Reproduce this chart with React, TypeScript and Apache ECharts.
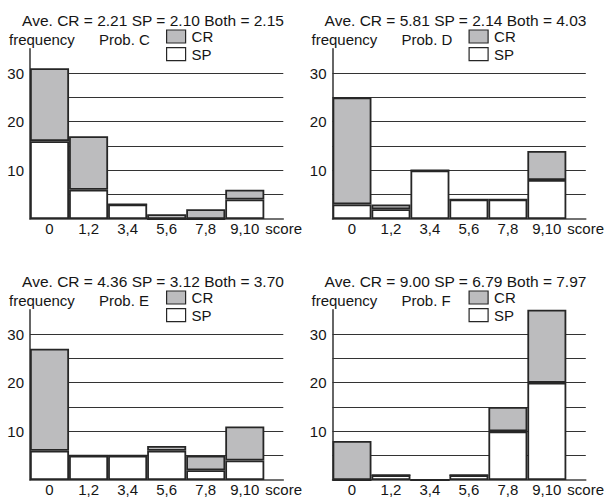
import React, { useEffect, useRef } from "react";
import * as echarts from "echarts";

const categories = ["0", "1,2", "3,4", "5,6", "7,8", "9,10"];
const probs = ["C", "D", "E", "F"];
const spC = [16, 6, 3, 0, 0, 4];
const crC = [15, 11, 0, 1, 2, 2];
const spD = [3, 2, 10, 4, 4, 8];
const crD = [22, 1, 0, 0, 0, 6];
const spE = [6, 5, 5, 6, 2, 4];
const crE = [21, 0, 0, 1, 3, 7];
const spF = [0, 1, 0, 1, 10, 20];
const crF = [8, 0, 0, 0, 5, 15];
const aveCR = ["2.21", "5.81", "4.36", "9.00"];
const aveSP = ["2.10", "2.14", "3.12", "6.79"];
const aveBoth = ["2.15", "4.03", "3.70", "7.97"];

const spData = [spC, spD, spE, spF];
const crData = [crC, crD, crE, crF];

const FONT = '"Liberation Sans", Arial, Helvetica, sans-serif';
const TXT = "#151515";
const GRAY = "#bcbcbe";
const EDGE = "#262626";

export default function App() {
  const ref = useRef<HTMLDivElement>(null);
  useEffect(() => {
    if (!ref.current) return;
    const chart = echarts.init(ref.current, null, { renderer: "svg" });
    const grids: any[] = [];
    const xAxes: any[] = [];
    const yAxes: any[] = [];
    const series: any[] = [];
    const legends: any[] = [];
    const graphics: any[] = [];
    for (let i = 0; i < 4; i++) {
      const ox = i % 2 === 1 ? 302.5 : 0;
      const oy = i >= 2 ? 261 : 0;
      const top = 48.7 + oy;
      const height = 170.3;
      const left = 30 + ox;
      grids.push({ left, top, width: 253.3, height, containLabel: false });
      grids.push({ left, top, width: 234.3, height, containLabel: false });
      const gA = i * 2;
      const gB = i * 2 + 1;
      xAxes.push({
        gridIndex: gA,
        type: "value",
        min: 0,
        max: 1,
        axisLine: { show: true, lineStyle: { color: "#444", width: 1.5 } },
        axisTick: { show: false },
        axisLabel: { show: false },
        splitLine: { show: false },
      });
      yAxes.push({
        gridIndex: gA,
        type: "value",
        min: 0,
        max: 35,
        interval: 5,
        axisLine: { show: true, lineStyle: { color: "#333", width: 1.5 } },
        axisTick: { show: false },
        axisLabel: { show: false },
        splitLine: {
          show: true,
          showMinLine: false,
          showMaxLine: false,
          lineStyle: { color: "#333", width: 1 },
        },
      });
      xAxes.push({
        gridIndex: gB,
        type: "category",
        data: categories,
        axisLine: { show: false },
        axisTick: { show: false },
        axisLabel: { fontSize: 15, color: TXT, fontFamily: FONT, margin: 2 },
        name: "score",
        nameLocation: "end",
        nameGap: 1,
        nameTextStyle: {
          fontSize: 15,
          color: TXT,
          fontFamily: FONT,
          align: "left",
          verticalAlign: "top",
          padding: [2, 0, 0, 0],
        },
      });
      yAxes.push({
        gridIndex: gB,
        type: "value",
        min: 0,
        max: 35,
        interval: 5,
        axisLine: { show: false },
        axisTick: { show: false },
        splitLine: { show: false },
        axisLabel: {
          fontSize: 15,
          color: TXT,
          fontFamily: FONT,
          margin: 6,
          formatter: (v: number) => (v > 0 && v % 10 === 0 ? String(v) : ""),
        },
      });
      series.push({
        type: "bar",
        name: "SP",
        xAxisIndex: gB,
        yAxisIndex: gB,
        stack: "s" + i,
        data: spData[i],
        barCategoryGap: "0%",
        itemStyle: { color: "#ffffff", borderColor: EDGE, borderWidth: 1.8 },
      });
      series.push({
        type: "bar",
        name: "CR",
        xAxisIndex: gB,
        yAxisIndex: gB,
        stack: "s" + i,
        data: crData[i],
        barCategoryGap: "0%",
        itemStyle: { color: GRAY, borderColor: EDGE, borderWidth: 1.8 },
      });
      legends.push({
        data: ["CR", "SP"],
        orient: "vertical",
        left: 166 + ox,
        top: 29 + oy,
        padding: 0,
        icon: "rect",
        itemWidth: 19,
        itemHeight: 13,
        itemGap: 2.7,
        selectedMode: false,
        itemStyle: { borderColor: EDGE, borderWidth: 1.2 },
        textStyle: { fontSize: 15, color: TXT, fontFamily: FONT, padding: [0, 0, 0, 1] },
      });
      graphics.push({
        type: "text",
        x: 153 + ox,
        y: 20.5 + oy,
        style: {
          text: `Ave. CR = ${aveCR[i]} SP = ${aveSP[i]} Both = ${aveBoth[i]}`,
          fontSize: 15.5,
          fontFamily: FONT,
          fill: TXT,
          align: "center",
          verticalAlign: "middle",
        },
      });
      graphics.push({
        type: "text",
        x: 9 + ox,
        y: 39 + oy,
        style: {
          text: "frequency",
          fontSize: 15,
          fontFamily: FONT,
          fill: TXT,
          align: "left",
          verticalAlign: "middle",
        },
      });
      graphics.push({
        type: "text",
        x: 99 + ox,
        y: 39 + oy,
        style: {
          text: "Prob. " + probs[i],
          fontSize: 15,
          fontFamily: FONT,
          fill: TXT,
          align: "left",
          verticalAlign: "middle",
        },
      });
    }
    chart.setOption({
      animation: false,
      backgroundColor: "#ffffff",
      grid: grids,
      xAxis: xAxes,
      yAxis: yAxes,
      series,
      legend: legends,
      graphic: graphics,
    });
    return () => chart.dispose();
  }, []);
  return (
    <div
      ref={ref}
      style={{ position: "fixed", left: 0, top: 0, width: 605, height: 497 }}
    />
  );
}
